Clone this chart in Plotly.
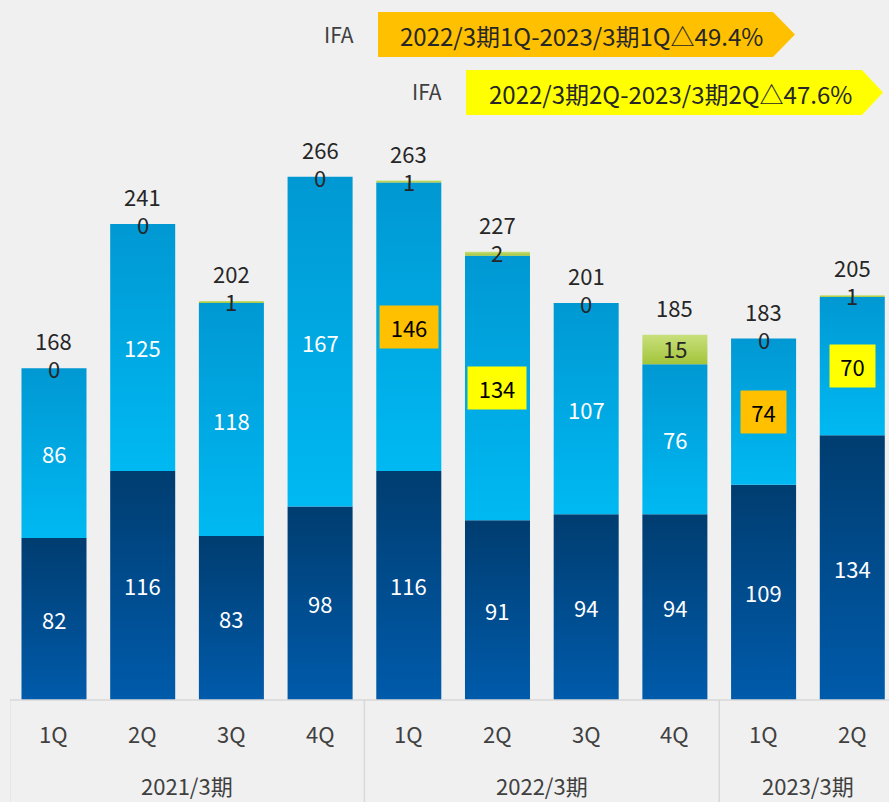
import plotly.graph_objects as go

# ---------------- data ----------------
quarters = ["1Q", "2Q", "3Q", "4Q", "1Q", "2Q", "3Q", "4Q", "1Q", "2Q"]
fiscal_years = ["2021/3期", "2022/3期", "2023/3期"]
year_members = [[0, 1, 2, 3], [4, 5, 6, 7], [8, 9]]
bottom_vals = [82, 116, 83, 98, 116, 91, 94, 94, 109, 134]
middle_vals = [86, 125, 118, 167, 146, 134, 107, 76, 74, 70]
top_vals = [0, 0, 1, 0, 1, 2, 0, 15, 0, 1]
total_vals = [168, 241, 202, 266, 263, 227, 201, 185, 183, 205]
highlight = {4: "#ffc000", 5: "#ffff00", 8: "#ffc000", 9: "#ffff00"}
banner_labels = ["IFA", "IFA"]
banner_texts = ["2022/3期1Q-2023/3期1Q△49.4%", "2022/3期2Q-2023/3期2Q△47.6%"]
banner_colors = ["#ffc000", "#ffff00"]

# ---------------- layout constants ----------------
W, H = 889, 802
ML, MR, MT, MB = 10, 0, 120, 102
PW, PH = W - ML - MR, H - MT - MB
X0, X1 = -0.496, 9.414
Y0, Y1 = 0, PH / 1.975
BARW = 0.733
FONT = "Noto Sans CJK JP"
TXT = "#262626"
AXC = "#404040"

def px2x(px):
    return (px - ML) / PW

def py2y(py):
    return (H - MB - py) / PH

grad = {
    "bottom": [[0, "#005bab"], [1, "#003d70"]],
    "middle": [[0, "#00b9f2"], [1, "#0098d3"]],
    "top": [[0, "#a3c43a"], [1, "#c8e07c"]],
}

fig = go.Figure()
xs = list(range(len(quarters)))

def seg(i, base, h, key):
    if h <= 0:
        return
    xl, xr = i - BARW / 2, i + BARW / 2
    fig.add_trace(go.Scatter(
        x=[xl, xr, xr, xl, xl], y=[base, base, base + h, base + h, base],
        mode="lines", fill="toself", line=dict(width=0, color="rgba(0,0,0,0)"),
        fillgradient=dict(type="vertical", colorscale=grad[key]),
        hoverinfo="skip", showlegend=False))

for i in xs:
    b, m, t = bottom_vals[i], middle_vals[i], top_vals[i]
    seg(i, 0, b, "bottom")
    seg(i, b, m, "middle")
    seg(i, b + m, t, "top")

C = dict(xanchor="center", yanchor="middle", showarrow=False)
ann = []
for i in xs:
    b, m, t = bottom_vals[i], middle_vals[i], top_vals[i]
    ann.append(dict(x=i, y=b / 2, text=str(b), yshift=0,
                    font=dict(family=FONT, size=22, color="white"), **C))
    if i in highlight:
        ann.append(dict(x=i, y=b + m / 2, text=str(m),
                        bgcolor=highlight[i], width=56 if m >= 100 else 43, height=40,
                        font=dict(family=FONT, size=22, color="black"), **C))
    else:
        ann.append(dict(x=i, y=b + m / 2, text=str(m), yshift=0,
                        font=dict(family=FONT, size=22, color="white"), **C))
    if t >= 5:
        ann.append(dict(x=i, y=b + m + t / 2, text=str(t), yshift=1,
                        font=dict(family=FONT, size=22, color=TXT), **C))
    else:
        ann.append(dict(x=i, y=b + m + t, text=str(t), yshift=0,
                        font=dict(family=FONT, size=22, color=TXT), **C))
    ann.append(dict(x=i, y=b + m + t, text=str(total_vals[i]), yshift=28,
                    font=dict(family=FONT, size=22, color=TXT), **C))
    ann.append(dict(x=i, xref="x", y=py2y(733), yref="paper", text=quarters[i],
                    font=dict(family=FONT, size=22, color=AXC), **C))

for g, members in zip(fiscal_years, year_members):
    ann.append(dict(x=sum(members) / len(members), xref="x", y=py2y(785), yref="paper",
                    text=g, font=dict(family=FONT, size=22, color=AXC), **C))

shapes = []
shapes.append(dict(type="line", xref="paper", yref="paper", x0=px2x(10), x1=1.0,
                   y0=0, y1=0, line=dict(color="#d9d9d9", width=1.5)))
for members in year_members:
    left = members[0] - 0.5
    shapes.append(dict(type="line", xref="x", yref="paper", x0=left, x1=left,
                       y0=0, y1=py2y(H), line=dict(color="#d9d9d9", width=1.5)))

# banners
banner_geo = [(378, 773, 795, 12, 57, 339), (466, 862, 883, 70, 115, 427)]
for (xl, xb, xt, yt, yb, lx), lab, txt, col in zip(banner_geo, banner_labels, banner_texts, banner_colors):
    ym = (yt + yb) / 2
    path = "M {a},{b} L {c},{b} L {d},{e} L {c},{f} L {a},{f} Z".format(
        a=px2x(xl), b=py2y(yt), c=px2x(xb), d=px2x(xt), e=py2y(ym), f=py2y(yb))
    shapes.append(dict(type="path", xref="paper", yref="paper", path=path,
                       fillcolor=col, line=dict(width=0)))
    ann.append(dict(x=px2x((xl + xb) / 2 + 6), y=py2y(ym + 1), xref="paper", yref="paper",
                    text=txt, font=dict(family=FONT, size=24, color=TXT), **C))
    ann.append(dict(x=px2x(lx), y=py2y(ym - 1), xref="paper", yref="paper",
                    text=lab, font=dict(family=FONT, size=21, color=AXC), **C))

fig.update_layout(
    width=W, height=H, margin=dict(l=ML, r=MR, t=MT, b=MB),
    paper_bgcolor="#f0f0f0", plot_bgcolor="#f0f0f0",
    xaxis=dict(range=[X0, X1], showgrid=False, zeroline=False, showticklabels=False,
               fixedrange=True),
    yaxis=dict(range=[Y0, Y1], showgrid=False, zeroline=False, showticklabels=False,
               fixedrange=True),
    annotations=ann, shapes=shapes, showlegend=False,
)

fig.write_html(
    "out.html",
    config={"displayModeBar": False},
    post_script="document.body.style.margin='0';document.body.style.overflow='hidden';"
                "document.body.style.background='#f0f0f0';",
)
